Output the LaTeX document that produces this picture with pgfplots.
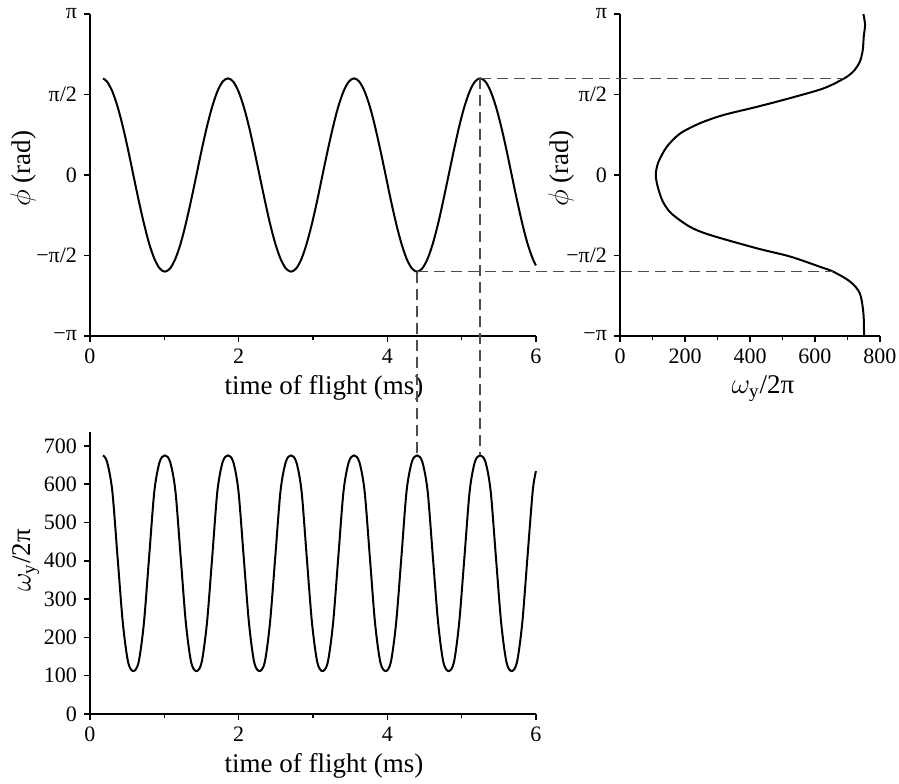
\documentclass[border=0pt]{standalone}
\usepackage{fontspec}
\setmainfont{Liberation Serif}
\usepackage{pgfplots}
\usepackage{pgfplotstable}
\pgfplotsset{compat=1.18}

% time of flight (ms), phase phi (rad), omega_y/2pi
\pgfplotstableread{
t     phi     w
0.175  1.883  675
0.230  1.822  658
0.300  1.633  582
0.371  1.334  409
0.442  0.943  237
0.513  0.488  135
0.583  0.000  112
0.654 -0.488  135
0.725 -0.943  237
0.795 -1.334  409
0.866 -1.633  582
0.937 -1.822  658
1.007 -1.886  675
1.078 -1.822  658
1.149 -1.633  582
1.220 -1.334  409
1.290 -0.943  237
1.361 -0.488  135
1.432  0.000  112
1.502  0.488  135
1.573  0.943  237
1.644  1.334  409
1.714  1.633  582
1.785  1.822  658
1.856  1.886  675
1.927  1.822  658
1.997  1.633  582
2.068  1.334  409
2.139  0.943  237
2.209  0.488  135
2.280  0.000  112
2.351 -0.488  135
2.421 -0.943  237
2.492 -1.334  409
2.563 -1.633  582
2.634 -1.822  658
2.704 -1.886  675
2.775 -1.822  658
2.846 -1.633  582
2.916 -1.334  409
2.987 -0.943  237
3.058 -0.488  135
3.128  0.000  112
3.199  0.488  135
3.270  0.943  237
3.340  1.334  409
3.411  1.633  582
3.482  1.822  658
3.553  1.886  675
3.623  1.822  658
3.694  1.633  582
3.765  1.334  409
3.835  0.943  237
3.906  0.488  135
3.977  0.000  112
4.047 -0.488  135
4.118 -0.943  237
4.189 -1.334  409
4.259 -1.633  582
4.330 -1.822  658
4.401 -1.886  675
4.471 -1.822  658
4.542 -1.633  582
4.613 -1.334  409
4.684 -0.943  237
4.754 -0.488  135
4.825  0.000  112
4.896  0.488  135
4.966  0.943  237
5.037  1.334  409
5.108  1.633  582
5.178  1.822  658
5.249  1.886  675
5.320  1.822  658
5.390  1.633  582
5.461  1.334  409
5.532  0.943  237
5.603  0.488  135
5.673  0.000  112
5.744 -0.488  135
5.815 -0.943  237
5.885 -1.334  409
5.956 -1.633  582
6.000 -1.764  634
}\flight

% omega_y/2pi against phi
\pgfplotstableread{
w    phi
749  3.14
754  2.93
750  2.70
747  2.44
738  2.21
718  2.02
690  1.886
626  1.69
523  1.50
421  1.33
318  1.17
246  1.01
185  0.81
144  0.55
118  0.25
110  0.00
117 -0.25
132 -0.52
158 -0.75
215 -1.01
277 -1.17
421 -1.43
523 -1.59
615 -1.79
656 -1.886
708 -2.08
738 -2.31
749 -2.70
751 -3.14
}\profile

\pgfplotsset{
  panel/.style={
    scale only axis,
    anchor=south west,
    axis x line*=bottom,
    axis y line*=left,
    axis line style={line width=1pt,-},
    tick align=outside,
    major tick length=3pt,
    minor tick length=2pt,
    tick style={line width=0.75pt,black},
    ticklabel style={font=\fontsize{11}{13}\selectfont},
    label style={font=\fontsize{13.5}{16}\selectfont},
    /pgf/number format/assume math mode=true,
    clip=false,
  },
  phiaxis/.style={
    ymin=-3.14159, ymax=3.14159,
    ytick={-3.14159,-1.5708,0,1.5708,3.14159},
    yticklabels={−π,−π/2,0,π/2,π},
    ylabel={$\phi$ (rad)},
  },
  timeaxis/.style={
    xmin=0, xmax=6,
    xtick={0,2,4,6},
    minor xtick={1,3,5},
    xlabel={time of flight (ms)},
    xlabel style={at={(axis description cs:0.5,0)}, anchor=base, yshift=-29pt, xshift=5.5pt},
  },
  curve/.style={black, line width=1pt, smooth},
}
\tikzset{guide/.style={black!70, line width=0.75pt, dash pattern=on 5.5pt off 3pt}}

\begin{document}
\begin{tikzpicture}
\useasboundingbox (0pt,0pt) rectangle (449.5pt,-391.5pt);

% phase against time
\begin{axis}[panel, phiaxis, timeaxis,
    at={(45pt,-168pt)}, width=223pt, height=161pt,
    ylabel style={at={(axis description cs:-0.150,0.52)}, anchor=center}]
  \addplot[curve] table[x=t, y=phi] {\flight};
  \coordinate (pmax) at (axis cs:5.249,1.886);
  \coordinate (pmin) at (axis cs:4.401,-1.886);
\end{axis}

% phase against trap frequency
\begin{axis}[panel, phiaxis,
    at={(310pt,-168pt)}, width=130pt, height=161pt,
    xmin=0, xmax=800,
    xtick={0,200,400,600,800},
    minor xtick={100,300,500,700},
    xlabel={$\omega_{\mathrm{y}}$/2π},
    xlabel style={at={(axis description cs:0.5,0)}, anchor=base, yshift=-28.5pt, xshift=6.5pt},
    ylabel style={at={(axis description cs:-0.227,0.52)}, anchor=center}]
  \addplot[curve] table[x=w, y=phi] {\profile};
  \coordinate (rmax) at (axis cs:690,1.886);
  \coordinate (rmin) at (axis cs:656,-1.886);
\end{axis}

% trap frequency against time
\begin{axis}[panel, timeaxis,
    at={(45pt,-357pt)}, width=223pt, height=141pt,
    ymin=0, ymax=736,
    ytick={0,100,...,700},
    ylabel={$\omega_{\mathrm{y}}$/2π},
    ylabel style={at={(axis description cs:-0.1435,0.545)}, anchor=center}]
  \addplot[curve] table[x=t, y=w] {\flight};
  \coordinate (wa) at (axis cs:5.249,675);
  \coordinate (wb) at (axis cs:4.401,675);
\end{axis}

\draw[guide] (pmax) -- (rmax);
\draw[guide] (pmin) -- (rmin);
\draw[guide] (pmax) -- (wa);
\draw[guide] (pmin) -- (wb);
\end{tikzpicture}
\end{document}
